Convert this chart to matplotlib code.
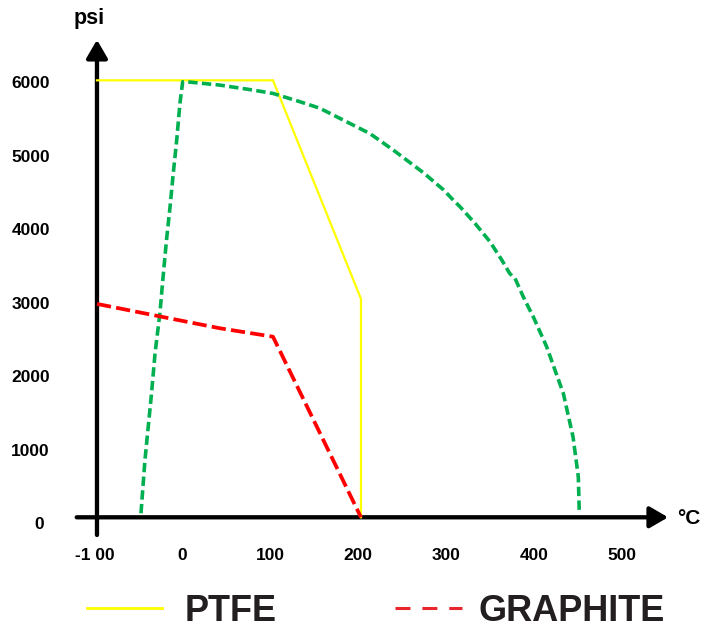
import matplotlib
matplotlib.use("Agg")
import matplotlib.pyplot as plt
from matplotlib.lines import Line2D
from matplotlib import font_manager

plt.rcParams['font.family'] = ['Liberation Sans', 'DejaVu Sans']

# ---- data ----
ptfe_t = [-100, 100, 200, 200]
ptfe_p = [6000, 6000, 3000, 0]

graphite_t = [-100, 0, 40, 100, 200]
graphite_p = [2930, 2690, 2595, 2480, 0]

green_t = [-50, -45.5, -38, -34, -28.5, -24.5, -21, -17, -13.3, -9.4, -5.7, -2.6,
           2, 40, 78, 100, 131, 153, 165, 210, 236.7, 271, 294, 305, 312.5,
           329.5, 346.6, 360, 369, 375, 384.4, 392, 395.8, 411, 430, 441, 447, 448]
green_p = [55, 783, 1703, 2253, 2802, 3352, 3805, 4258, 4725, 5179, 5687, 5980,
           5980, 5934, 5865, 5820, 5705, 5618, 5545, 5270, 5043, 4731, 4494,
           4354, 4265, 4037, 3784, 3533, 3348, 3282, 3029, 2843, 2754, 2342, 1699,
           1103, 554, 96]

x_ticks = [-100, 0, 100, 200, 300, 400, 500]
x_tick_labels = ['-1 00', '0', '100', '200', '300', '400', '500']
y_ticks = [0, 1000, 2000, 3000, 4000, 5000, 6000]
y_tick_labels = ['0', '1000', '2000', '3000', '4000', '5000', '6000']

series_names = ['PTFE', 'GRAPHITE']

# narrow font for tick labels if available
names = {f.name for f in font_manager.fontManager.ttflist}
if 'Liberation Sans Narrow' in names:
    tick_font = dict(family=['Liberation Sans Narrow', 'DejaVu Sans'], fontsize=14,
                     fontweight='bold', color='black')
else:
    tick_font = dict(fontsize=12.5, fontweight='bold', color='black')

# ---- figure ----
W, H = 712, 628
fig = plt.figure(figsize=(W / 100, H / 100), dpi=100)
ax = fig.add_axes([0, 0, 1, 1])
ax.set_xlim(-210.2, 598.9)
ax.set_ylim(-1520, 7103)
ax.axis('off')

# axes with arrows
arrow_kw = dict(arrowstyle='-|>,head_length=0.55,head_width=0.32', lw=3.1,
                color='black', mutation_scale=20, shrinkA=0, shrinkB=0)
ax.annotate('', xy=(-100, 6556), xytext=(-100, -243), arrowprops=arrow_kw)
ax.annotate('', xy=(549, 0), xytext=(-123, 0), arrowprops=arrow_kw)

# data lines
ax.plot(ptfe_t, ptfe_p, color='#FFFF00', lw=1.6, solid_joinstyle='miter', zorder=3)
ax.plot(green_t, green_p, color='#00B050', lw=2.6, dashes=(2.6, 1.2), zorder=4)
ax.plot(graphite_t, graphite_p, color='#FF0000', lw=2.7, dashes=(3.8, 1.4), zorder=5)

# tick labels
for v, lab in zip(y_ticks, y_tick_labels):
    yy = -105.7 + 1.0099 * v
    if v == 0:
        ax.text(-165.9, yy, lab, ha='center', va='center', **tick_font)
    else:
        ax.text(-153.4, yy, lab, ha='right', va='center', **tick_font)
for v, lab in zip(x_ticks, x_tick_labels):
    ax.text(v - 3, -518, lab, ha='center', va='center', **tick_font)

# axis titles
fig.text(89 / W, 1 - 24 / H, 'psi', ha='center', va='baseline', fontsize=15.5,
         fontweight='bold', color='black')
fig.text(688.5 / W, 1 - 518.5 / H, '°C', ha='center', va='center', fontsize=15,
         fontweight='bold', color='black')

# legend
fig.add_artist(Line2D([87 / W, 162 / W], [1 - 608 / H, 1 - 608 / H],
                      color='#FFFF00', lw=2.0))
fig.add_artist(Line2D([395 / W, 462 / W], [1 - 608 / H, 1 - 608 / H],
                      color='#E8262B', lw=2.2, dashes=(4.9, 3.9)))
fig.text(185 / W, 1 - 611.5 / H, series_names[0], ha='left', va='center',
         fontsize=26, fontweight='bold', color='#231F20')
fig.text(479 / W, 1 - 611.5 / H, series_names[1], ha='left', va='center',
         fontsize=26, fontweight='bold', color='#231F20')

fig.savefig('out.png', dpi=100, facecolor='white')
